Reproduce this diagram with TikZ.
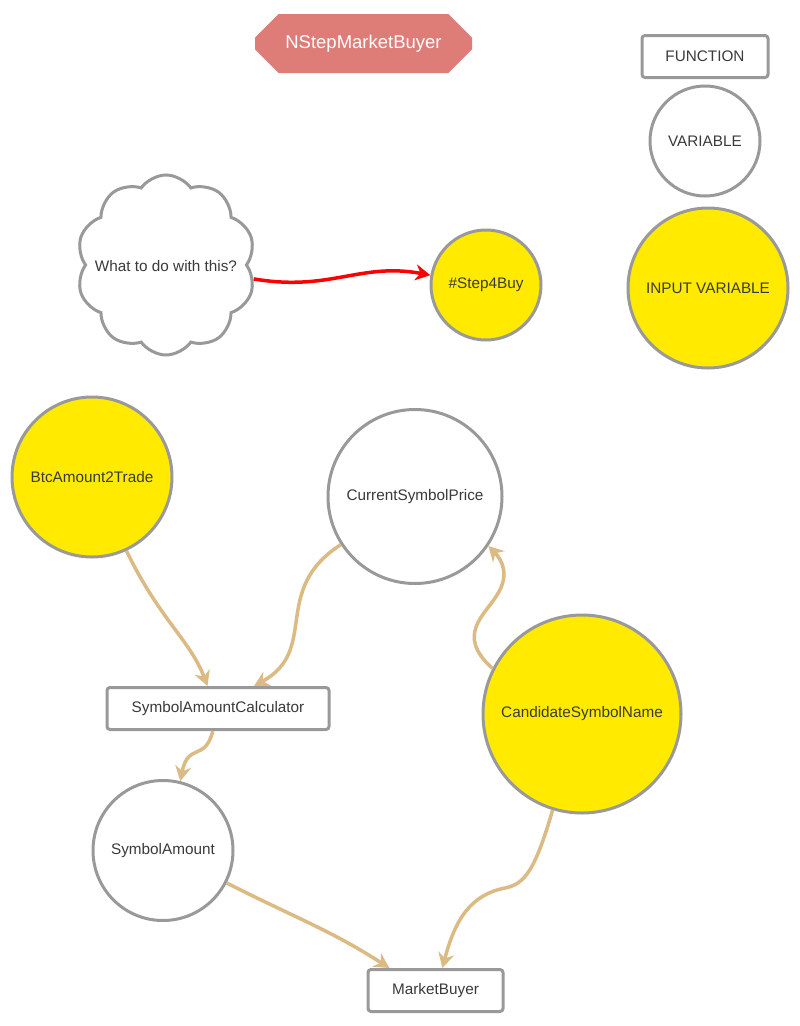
\documentclass[tikz,border=0pt]{standalone}
\usepackage{fontspec}
\setmainfont{Liberation Sans}
\usetikzlibrary{shapes.misc,shapes.symbols,arrows.meta}
\definecolor{bordergray}{HTML}{999999}
\definecolor{txtgray}{HTML}{3A3A3A}
\definecolor{yel}{HTML}{FFEA00}
\definecolor{tan}{HTML}{DBBA84}
\definecolor{titlered}{HTML}{DE7C78}
\tikzset{
  base/.style={draw=bordergray, line width=3pt, text=txtgray, font=\fontsize{15.3}{18}\selectfont, inner sep=0pt},
  varnode/.style={base, circle, fill=white},
  inputnode/.style={base, circle, fill=yel},
  funcnode/.style={base, rectangle, rounded corners=3pt, fill=white, minimum height=42pt},
  flow/.style={draw=tan, line width=3.5pt, -{Stealth[length=15pt,width=16pt,inset=5pt]}},
  redflow/.style={draw=red, line width=3.5pt, -{Stealth[length=15pt,width=16pt,inset=5pt]}},
}
\begin{document}
\begin{tikzpicture}[x=1pt,y=-1pt]
\useasboundingbox (0,0) rectangle (800,1026);
\fill[white] (0,0) rectangle (800,1026);
% title
\node[chamfered rectangle, chamfered rectangle xsep=15pt, chamfered rectangle ysep=15pt,
  fill=titlered, minimum width=217pt, minimum height=59pt, inner sep=0pt,
  text=white, font=\fontsize{18.5}{21}\selectfont] (title) at (363.5,43.5) {NStepMarketBuyer};
% legend
\node[funcnode, minimum width=126pt] (legfunc) at (705,56.5) {FUNCTION};
\node[varnode, minimum size=110pt] (legvar) at (705,141) {VARIABLE};
\node[inputnode, minimum size=160pt] (leginput) at (708,288) {INPUT VARIABLE};
% cloud
\node[base, cloud, cloud puffs=10, cloud puff arc=110, aspect=1, fill=white, minimum width=179pt, minimum height=180pt] (cloud) at (166,265) {};
\node[text=txtgray, font=\fontsize{15.3}{18}\selectfont] (cloudtxt) at (166,266) {What to do with this?};
\node[inputnode, minimum size=110pt] (step) at (486,285) {\#Step4Buy};
% main
\node[inputnode, minimum size=160pt] (btc) at (92,477) {BtcAmount2Trade};
\node[varnode, minimum size=174pt] (csp) at (415,496.5) {CurrentSymbolPrice};
\node[inputnode, minimum size=198pt] (csn) at (582,714) {CandidateSymbolName};
\node[funcnode, minimum width=222pt] (sac) at (218,708.5) {SymbolAmountCalculator};
\node[varnode, minimum size=140pt] (sa) at (163,850.5) {SymbolAmount};
\node[funcnode, minimum width=135pt] (mb) at (435.5,990.5) {MarketBuyer};
% connectors
\draw[redflow] (cloud.-9) .. controls (330,292) and (360,262) .. (step.170);
\draw[flow] (btc.-65) .. controls (160,620) and (190,640) .. (sac.115);
\draw[flow] (csp.-147) .. controls (270,590) and (320,650) .. (sac.32);
\draw[flow] (sac.-103) .. controls (205,762) and (188,742) .. (sa.76);
\draw[flow] (csn.153) .. controls (455,635) and (485,615) .. (497,595) .. controls (510,575) and (502,560) .. (csp.-34);
\draw[flow] (sa.-27) .. controls (300,920) and (330,930) .. (mb.154);
\draw[flow] (csn.-107) .. controls (535,870) and (525,884) .. (505,888) .. controls (470,895) and (455,920) .. (mb.73);
\end{tikzpicture}
\end{document}
